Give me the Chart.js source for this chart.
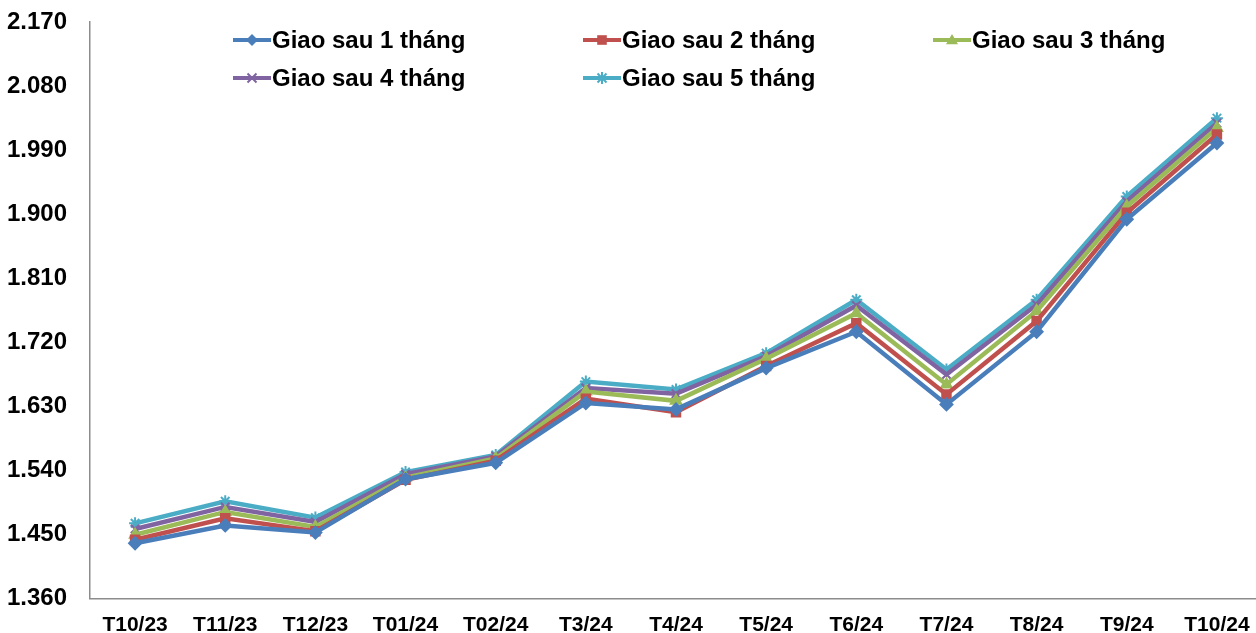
<!DOCTYPE html>
<html>
<head>
<meta charset="utf-8">
<script src="https://cdn.jsdelivr.net/npm/chart.js@4"></script>
<style>
  html, body { margin: 0; padding: 0; background: #fff; overflow: hidden; }
  #wrap { position: absolute; left: 0; top: 0; width: 1270px; height: 652px; }
</style>
</head>
<body>
<div id="wrap"><canvas id="chart" width="1270" height="652"></canvas></div>
<script>
const months = ['T10/23', 'T11/23', 'T12/23', 'T01/24', 'T02/24', 'T3/24', 'T4/24', 'T5/24', 'T6/24', 'T7/24', 'T8/24', 'T9/24', 'T10/24'];
const giao1 = [1.438, 1.463, 1.453, 1.528, 1.551, 1.635, 1.626, 1.684, 1.735, 1.633, 1.735, 1.893, 2.000];
const giao2 = [1.443, 1.473, 1.455, 1.527, 1.554, 1.641, 1.622, 1.687, 1.747, 1.647, 1.750, 1.902, 2.012];
const giao3 = [1.450, 1.482, 1.461, 1.530, 1.557, 1.651, 1.638, 1.697, 1.761, 1.661, 1.764, 1.911, 2.021];
const giao4 = [1.458, 1.489, 1.468, 1.535, 1.560, 1.656, 1.648, 1.701, 1.772, 1.675, 1.773, 1.918, 2.028];
const giao5 = [1.466, 1.497, 1.474, 1.538, 1.562, 1.665, 1.654, 1.705, 1.780, 1.682, 1.780, 1.925, 2.035];
const yTicks = [1.36, 1.45, 1.54, 1.63, 1.72, 1.81, 1.90, 1.99, 2.08, 2.17];

const series = [
  { label: 'Giao sau 1 tháng', data: giao1, color: '#4a7ebb', style: 'rectRot', lx: 233, ly: 40 },
  { label: 'Giao sau 2 tháng', data: giao2, color: '#c0504d', style: 'rect', lx: 583, ly: 40 },
  { label: 'Giao sau 3 tháng', data: giao3, color: '#9bbb59', style: 'triangle', lx: 933, ly: 40 },
  { label: 'Giao sau 4 tháng', data: giao4, color: '#8064a2', style: 'crossRot', lx: 233, ly: 78 },
  { label: 'Giao sau 5 tháng', data: giao5, color: '#4bacc6', style: 'star', lx: 583, ly: 78 },
];

const family = '"Liberation Sans", Arial, sans-serif';

function marker(g, style, x, y, r) {
  g.beginPath();
  if (style === 'rectRot') {
    g.moveTo(x, y - r); g.lineTo(x + r, y); g.lineTo(x, y + r); g.lineTo(x - r, y); g.closePath(); g.fill();
  } else if (style === 'rect') {
    g.rect(x - r * 0.8, y - r * 0.8, r * 1.6, r * 1.6); g.fill();
  } else if (style === 'triangle') {
    g.moveTo(x, y - r); g.lineTo(x + r, y + r * 0.7); g.lineTo(x - r, y + r * 0.7); g.closePath(); g.fill();
  } else {
    const d = r * 0.75;
    g.moveTo(x - d, y - d); g.lineTo(x + d, y + d); g.moveTo(x + d, y - d); g.lineTo(x - d, y + d);
    if (style === 'star') { g.moveTo(x, y - r); g.lineTo(x, y + r); }
    g.stroke();
  }
}

// legend drawn by hand so the two rows line up like the original
const legendPlugin = {
  id: 'manualLegend',
  afterDraw(chart) {
    const g = chart.ctx;
    g.save();
    series.forEach((s) => {
      g.strokeStyle = s.color;
      g.fillStyle = s.color;
      g.lineWidth = 4;
      g.beginPath(); g.moveTo(s.lx, s.ly); g.lineTo(s.lx + 38, s.ly); g.stroke();
      g.lineWidth = 2;
      marker(g, s.style, s.lx + 19, s.ly, 6);
      g.fillStyle = '#000';
      g.font = 'bold 24px ' + family;
      g.textBaseline = 'middle';
      g.fillText(s.label, s.lx + 39, s.ly + 1);
    });
    g.restore();
  }
};

new Chart(document.getElementById('chart'), {
  type: 'line',
  data: {
    labels: months,
    datasets: series.map((s) => ({
      label: s.label,
      data: s.data,
      borderColor: s.color,
      backgroundColor: s.color,
      borderWidth: 4.5,
      pointStyle: s.style,
      pointRadius: 6,
      pointBorderWidth: 2,
      tension: 0,
    })),
  },
  options: {
    responsive: false,
    animation: false,
    layout: { padding: { top: 22, left: 0, right: 3, bottom: 0 } },
    plugins: { legend: { display: false }, tooltip: { enabled: false } },
    scales: {
      x: {
        offset: true,
        grid: { display: false, drawTicks: false },
        border: { color: '#8c8c8c', width: 1.5 },
        ticks: { color: '#000', padding: 14, maxRotation: 0, font: { family, size: 21, weight: 'bold' } },
      },
      y: {
        min: 1.36,
        max: 2.17,
        afterBuildTicks: (scale) => { scale.ticks = yTicks.map((v) => ({ value: v })); },
        afterFit: (scale) => { scale.width = 90; scale.paddingTop = 0; scale.paddingBottom = 0; },
        grid: { display: false, drawTicks: false },
        border: { color: '#8c8c8c', width: 1.5 },
        ticks: {
          color: '#000', padding: 23,
          font: { family, size: 24, weight: 'bold' },
          callback: (v) => v.toFixed(3),
        },
      },
    },
  },
  plugins: [legendPlugin],
});
</script>
</body>
</html>
